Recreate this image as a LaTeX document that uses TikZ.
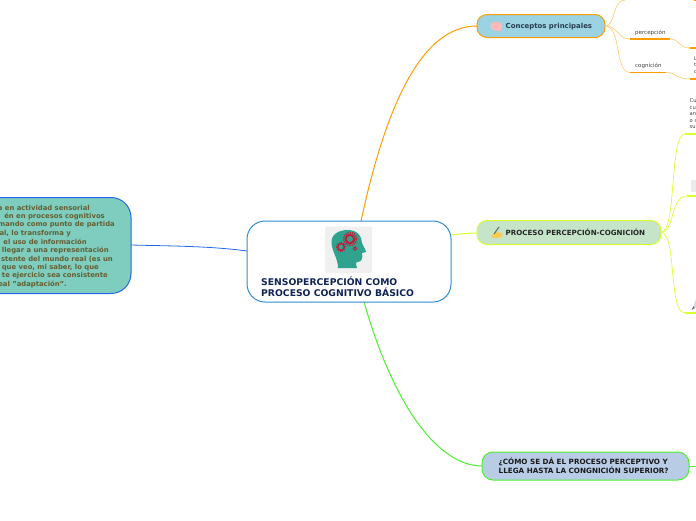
\documentclass[tikz,border=0pt]{standalone}
\usepackage{fontspec}
\setmainfont{DejaVu Sans}
\definecolor{orangeL}{HTML}{FF9D00}
\definecolor{limeL}{HTML}{D9FF2E}
\definecolor{greenL}{HTML}{4CF02E}
\definecolor{blueL}{HTML}{2467E8}
\definecolor{headC}{RGB}{47,163,142}
\definecolor{gearC}{RGB}{190,30,60}
\definecolor{leftT}{RGB}{100,95,50}
\tikzset{x=1pt,y=-1pt,
  box/.style={rounded corners=#1,inner sep=0pt,outer sep=0pt,line width=1pt},
  lbl/.style={font=\bfseries\fontsize{7.1}{9}\selectfont,align=left,inner sep=0pt,anchor=west},
  tiny lbl/.style={font=\fontsize{5.5}{6.5}\selectfont,inner sep=0pt,anchor=west,text=black!75},
  left lbl/.style={font=\bfseries\fontsize{6.85}{8.6}\selectfont,inner sep=0pt,anchor=east,text=leftT},
  branch/.style={line width=0.7pt},
  thick branch/.style={line width=1.2pt}}
\begin{document}
\begin{tikzpicture}
\useasboundingbox (0,0) rectangle (696,520);
\coordinate (rootT) at (361,221);
\coordinate (rootB) at (364,302);
\coordinate (rootR) at (451,235);
\coordinate (rootL) at (247,251);
\coordinate (l1) at (477,26);
\coordinate (l2) at (477,233);
\coordinate (l3) at (482,466);
\coordinate (l4) at (131,245);
\draw[orangeL,line width=1pt] (rootT) .. controls (385,110) and (420,26) .. (l1);
\draw[limeL,line width=1pt] (rootR) .. controls (460,234) and (468,233) .. (l2);
\draw[greenL,line width=1pt] (rootB) .. controls (395,410) and (440,466) .. (l3);
\draw[blueL,line width=.8pt] (rootL) .. controls (210,246) and (170,246) .. (l4);
% Conceptos
\node[box=10,draw=orangeL,fill={rgb,255:red,155;green,211;blue,226},minimum width=128pt,minimum height=23pt,anchor=west] (n1) at (477,26) {};
\fill[pink!60!red!50!white] (490.5,26.5) .. controls (490,22.5) and (494,21.5) .. (497,22) .. controls (501,22) and (503,25) .. (502,28) .. controls (501.5,30) and (500,31.5) .. (498,31) .. controls (495,31) and (491,30.5) .. (490.5,26.5) -- cycle;
\node[lbl,text={rgb,255:red,40;green,60;blue,80},font=\bfseries\fontsize{6.95}{9}\selectfont] (t1) at (505.5,26.5) {Conceptos principales};
\coordinate (n1r) at (605,26);
\coordinate (up) at (625,0);
\node[tiny lbl] (p) at (635,32.5) {percepción};
\node[tiny lbl] (c) at (635,66) {cognición};
\coordinate (pa) at (630,39);\coordinate (pb) at (670,39);\coordinate (pc) at (696,48);\coordinate (pd) at (690,48);
\coordinate (ca) at (630,72.5);\coordinate (cb) at (666,72.5);\coordinate (cc) at (696,79);\coordinate (cd) at (690,79);
\draw[orangeL!50!white,branch] (n1r) .. controls (616,26) and (612,0) .. (up);
\draw[orangeL!50!white,branch] (n1r) .. controls (618,26) and (618,39) .. (pa);
\draw[orangeL!50!white,branch] (n1r) .. controls (622,26) and (614,72.5) .. (ca);
\draw[orangeL,thick branch] (pa) -- (pb);
\draw[orangeL,thick branch] (ca) -- (cb);
\draw[orangeL!50!white,branch] (pb) .. controls (680,39) and (678,48) .. (pd);
\draw[orangeL!50!white,branch] (cb) .. controls (676,72.5) and (676,79) .. (cd);
\draw[orangeL,thick branch] (pd) -- (pc);
\draw[orangeL,thick branch] (cd) -- (cc);
\draw[orangeL,thick branch] (694,0) -- (696,0);
% Proceso
\node[box=10,draw=limeL,fill={rgb,255:red,197;green,228;blue,200},minimum width=184pt,minimum height=24pt,anchor=west] (n2) at (477,232.5) {};
\fill[orange!60!yellow!70!white] (491,237) -- (495,232) -- (502,233) -- (502,237) -- (495,238) -- cycle;
\draw[black!60,line width=1pt] (494,234) -- (499,227);
\node[lbl,text=black!85] (t2) at (505.5,232.5) {PROCESO PERCEPCIÓN-COGNICIÓN};
\coordinate (n2r) at (661,232.5);
\coordinate (a1) at (685,134);\coordinate (a2) at (687,196);\coordinate (a3) at (685,313);
\draw[limeL,branch] (n2r) .. controls (677,232) and (669,134) .. (a1);
\draw[limeL,branch] (n2r) .. controls (675,232) and (670,196) .. (a2);
\draw[limeL,branch] (n2r) .. controls (677,232) and (668,313) .. (a3);
\draw[limeL,thick branch] (a1) -- (696,134);
\draw[limeL,thick branch] (a2) -- (696,196);
\draw[limeL,thick branch] (a3) -- (696,313);
\node[tiny lbl,font=\fontsize{5.2}{6.5}\selectfont,align=left,anchor=north west] (q) at (689.5,98.5) {Cu\\cu\\an\\o s\\su};
\node[tiny lbl,font=\fontsize{5.2}{6.5}\selectfont,align=left,anchor=north west] (r) at (694,56.5) {L\\t\\c};
\fill[blue!5!black!8] (691,180) rectangle (696,192);
\fill[black!60] (691.5,310) -- (693.5,306) -- (695,308) -- cycle;
\fill[blue!10!black!15] (693.5,306) -- (696,299) -- (696,308) -- (695,308) -- cycle;
% Como
\node[box=11,draw=greenL,fill={rgb,255:red,184;green,204;blue,230},minimum width=207pt,minimum height=28pt,anchor=west] (n3) at (482,466) {};
\node[lbl,text=black!90,font=\bfseries\fontsize{7.2}{9.2}\selectfont] (t3) at (498.5,466) {¿CÓMO SE DÁ EL PROCESO PERCEPTIVO Y\\LLEGA HASTA LA CONGNICIÓN SUPERIOR?};
\coordinate (n3r) at (689,466);
\coordinate (n3e) at (696,466);
\draw[greenL,line width=1pt] (n3r) -- (n3e);
% Left
\node[box=20,draw=blueL,fill={rgb,255:red,127;green,205;blue,190},minimum width=161pt,minimum height=96pt,anchor=east] (n4) at (131,245.5) {};
\node[left lbl] (s1) at (90,207.7) {a en actividad sensorial};
\node[left lbl] (s2) at (105,216.5) {én en procesos cognitivos};
\node[left lbl] (s3) at (115,225) {mando como punto de partida};
\node[left lbl] (s4) at (71,233.5) {al, lo transforma y};
\node[left lbl] (s5) at (87,242) {el uso de información};
\node[left lbl] (s6) at (109,250.5) {llegar a una representación};
\node[left lbl] (s7) at (113,259) {stente del mundo real (es un};
\node[left lbl] (s8) at (99,267.7) {que veo, mi saber, lo que};
\node[left lbl] (s9) at (108,276) {te ejercicio sea consistente};
\node[left lbl] (s10) at (67,284.7) {eal "adaptación".};
% Root
\node[box=18,draw={rgb,255:red,50;green,140;blue,210},fill=white,minimum width=204pt,minimum height=81pt,anchor=north west] (root) at (247,221) {};
\fill[black!6,rounded corners=2pt] (325,226.5) rectangle (372,273);
\fill[headC] (338,268) .. controls (338,258) and (332,252) .. (331.5,243) .. controls (331,234) and (339,230) .. (348,230) .. controls (357,230) and (362,236) .. (362,243) .. controls (363,246) and (366,250) .. (366,252) -- (362,253) .. controls (363,257) and (362,262) .. (358,262) .. controls (355,262) and (356,264) .. (357,268) -- cycle;
\draw[gearC,line width=2.2pt] (350,239) circle (4.3pt);
\draw[gearC,line width=1.4pt,dash pattern=on 1.2pt off 1.1pt] (350,239) circle (6.5pt);
\draw[gearC,line width=1.4pt] (341,247) circle (3.3pt);
\draw[gearC,line width=1pt,dash pattern=on 1pt off 1pt] (341,247) circle (4.6pt);
\draw[gearC,line width=.8pt] (355,248.5) circle (1.7pt);
\node[lbl,text={rgb,255:red,15;green,35;blue,85},font=\bfseries\fontsize{9.25}{11.4}\selectfont] (t0) at (261,286.5) {SENSOPERCEPCIÓN COMO\\PROCESO COGNITIVO BÁSICO};
\end{tikzpicture}
\end{document}
